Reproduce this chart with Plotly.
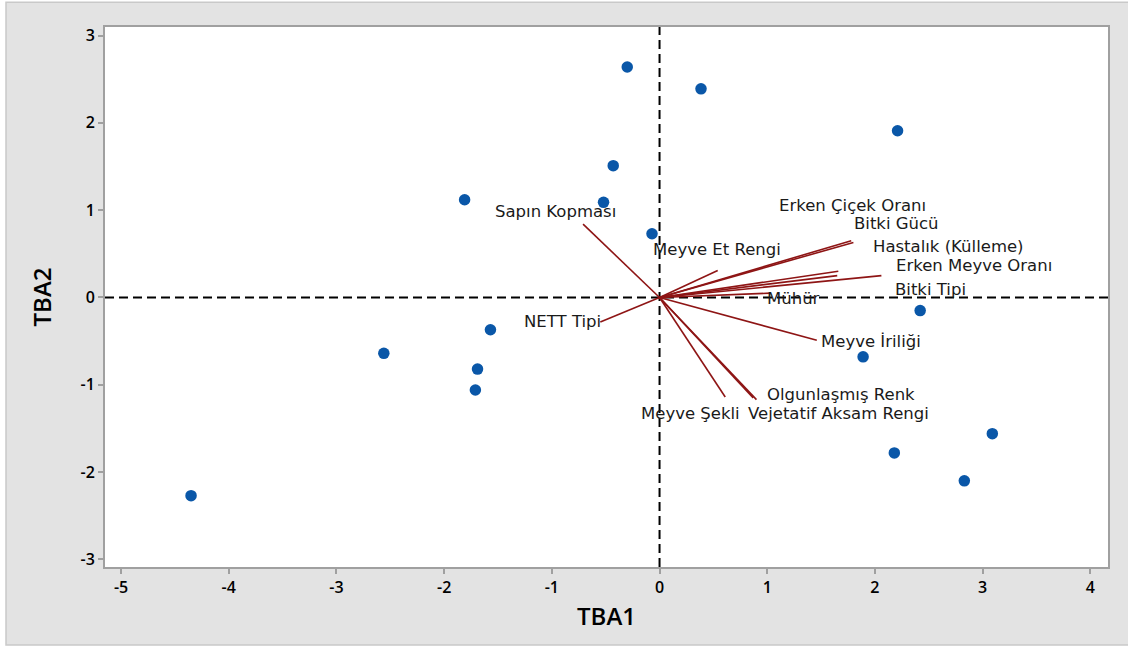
import plotly.graph_objects as go

# Principal component scores of the genotypes
score_x = [-0.30, 0.385, 2.21, -0.43, -1.81, -0.52, -0.07, -1.57, -2.56, -1.69,
           -1.71, 2.42, 1.89, 2.18, 3.09, 2.83, -4.35]
score_y = [2.64, 2.39, 1.91, 1.51, 1.12, 1.09, 0.73, -0.37, -0.64, -0.82,
           -1.06, -0.15, -0.68, -1.78, -1.56, -2.10, -2.27]

# Trait loadings (vector end points)
traits = ["Sapın Kopması", "NETT Tipi", "Meyve Et Rengi", "Erken Çiçek Oranı",
          "Bitki Gücü", "Hastalık (Külleme)", "Erken Meyve Oranı", "Bitki Tipi",
          "Mühür", "Meyve İriliği", "Olgunlaşmış Renk", "Vejetatif Aksam Rengi",
          "Meyve Şekli"]
load_x = [-0.71, -0.55, 0.54, 1.78, 1.80, 1.66, 2.06, 1.65, 1.03, 1.46, 0.90, 0.87, 0.61]
load_y = [0.84, -0.28, 0.31, 0.65, 0.63, 0.30, 0.25, 0.25, 0.05, -0.49, -1.17, -1.15, -1.14]

# Label placement relative to each vector tip (pixels)
label_dx = [-28, -38, -1, 1, 43, 110, 93, 93, 23, 54, 85, 85, -35]
label_dy = [13, 0, 21, 35, 19, 25, 10, -14, -5, -1, 5, -16, -16]

x_ticks = [-5, -4, -3, -2, -1, 0, 1, 2, 3, 4]
y_ticks = [-3, -2, -1, 0, 1, 2, 3]

fig = go.Figure()

# Reference lines through the origin
fig.add_shape(type="line", xref="x", yref="paper", x0=0, x1=0, y0=0, y1=1,
              line=dict(color="black", width=2, dash="9px,5px"), layer="below")
fig.add_shape(type="line", xref="paper", yref="y", x0=0, x1=1, y0=0, y1=0,
              line=dict(color="black", width=2, dash="9px,5px"), layer="below")

# Loading vectors
for tx, ty in zip(load_x, load_y):
    fig.add_trace(go.Scatter(x=[0, tx], y=[0, ty], mode="lines",
                             line=dict(color="#8e1515", width=1.6),
                             hoverinfo="skip", showlegend=False))

# Scores
fig.add_trace(go.Scatter(x=score_x, y=score_y, mode="markers",
                         marker=dict(color="#0a57a8", size=11.5, line=dict(width=0)),
                         showlegend=False))

for name, tx, ty, dx, dy in zip(traits, load_x, load_y, label_dx, label_dy):
    fig.add_annotation(x=tx, y=ty, text=name, showarrow=False,
                       xanchor="center", yanchor="middle", xshift=dx, yshift=dy,
                       font=dict(family="DejaVu Sans", size=16.5, color="#1a1a1a"))

# Outer frame strips
for x0, x1, y0, y1 in [(-0.2, -0.0987, -0.3, 1.2), (-0.2, 1.1, 1.046, 1.2),
                       (-0.2, 1.1, -0.3, -0.1445)]:
    fig.add_shape(type="rect", xref="paper", yref="paper", x0=x0, x1=x1, y0=y0, y1=y1,
                  fillcolor="white", line=dict(width=0), layer="below")
fig.add_shape(type="rect", xref="paper", yref="paper", x0=-0.0987, x1=1.2, y0=-0.1445, y1=1.046,
              fillcolor="rgba(0,0,0,0)", line=dict(color="#c9c9c9", width=1.5), layer="below")

axis_common = dict(showgrid=False, zeroline=False, showline=True, linecolor="#a0a0a0",
                   linewidth=2, mirror=True, ticks="outside", ticklen=5, tickwidth=1.5,
                   tickcolor="#a0a0a0",
                   tickfont=dict(family="Open Sans", size=16, color="black", weight=600))

fig.update_layout(
    width=1128, height=648,
    margin=dict(l=105, r=20, t=27, b=81),
    paper_bgcolor="#e3e3e3", plot_bgcolor="white",
    xaxis=dict(range=[-5.149, 4.164], tickvals=x_ticks,
               ticktext=[str(v) for v in x_ticks],
               title=dict(text="TBA1", standoff=11,
                          font=dict(family="Open Sans", size=24, color="black", weight=600)),
               **axis_common),
    yaxis=dict(range=[-3.087, 3.098], tickvals=y_ticks,
               ticktext=[str(v) for v in y_ticks],
               title=dict(text="TBA2", standoff=22,
                          font=dict(family="Open Sans", size=24, color="black", weight=600)),
               **axis_common),
)

fig.write_html("out.html")
